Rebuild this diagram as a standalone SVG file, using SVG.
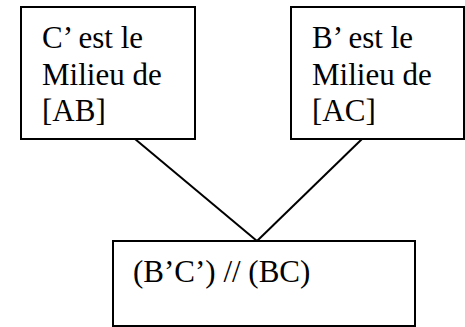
<svg xmlns="http://www.w3.org/2000/svg" width="465" height="327" viewBox="0 0 465 327">
<style>
.box{fill:#fff;stroke:#000;stroke-width:2}
.t{font-family:"Liberation Serif","Times New Roman",serif;font-size:31px;fill:#000}
.c{stroke:#000;stroke-width:2;fill:none}
</style>
<rect width="465" height="327" fill="#fff"/>
<g id="connectors">
<line class="c" x1="135" y1="139" x2="257" y2="241"/>
<line class="c" x1="257" y1="241" x2="362" y2="139"/>
</g>
<g id="left">
<rect class="box" x="21" y="7" width="174" height="132"/>
<text class="t" x="42" y="48">C’ est le</text>
<text class="t" x="42" y="85">Milieu de</text>
<text class="t" x="42" y="121">[AB]</text>
</g>
<g id="right">
<rect class="box" x="291" y="7" width="173" height="132"/>
<text class="t" x="312" y="48">B’ est le</text>
<text class="t" x="312" y="85">Milieu de</text>
<text class="t" x="312" y="121">[AC]</text>
</g>
<g id="bottom">
<rect class="box" x="113" y="241" width="302" height="85"/>
<text class="t" x="133" y="282">(B’C’) // (BC)</text>
</g>
</svg>
